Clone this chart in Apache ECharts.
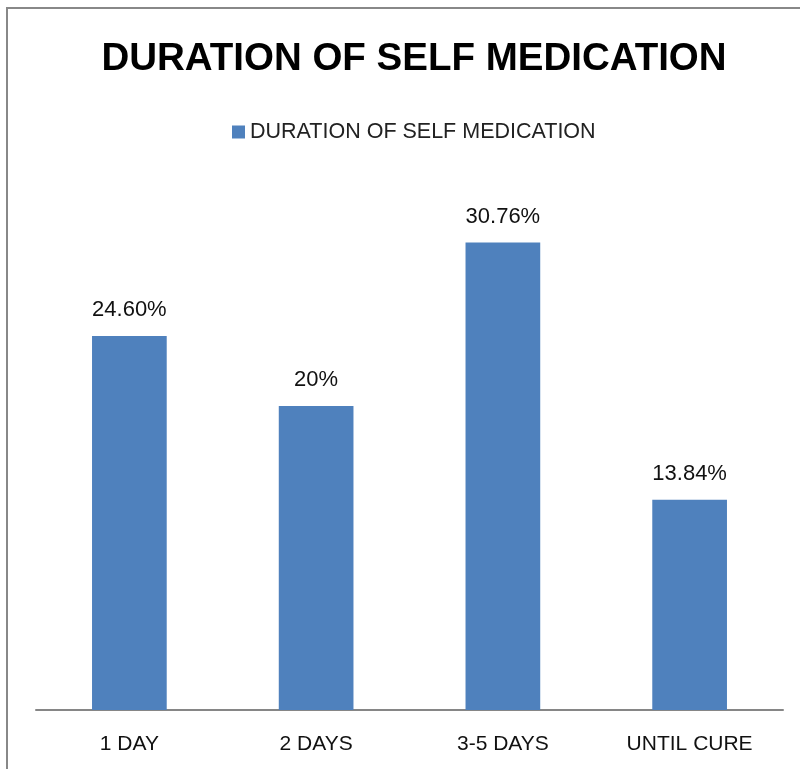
<!DOCTYPE html>
<html>
<head>
<meta charset="utf-8">
<script src="https://cdn.jsdelivr.net/npm/echarts@6/dist/echarts.min.js"></script>
<style>
  html, body { margin: 0; padding: 0; background: #fff; }
  #main { width: 800px; height: 769px; }
</style>
</head>
<body>
<div id="main"></div>
<script>
// data
var categories = ['1 DAY', '2 DAYS', '3-5 DAYS', 'UNTIL CURE'];
var values = [24.60, 20, 30.76, 13.84];
var valueLabels = ['24.60%', '20%', '30.76%', '13.84%'];
var seriesName = 'DURATION OF SELF MEDICATION';

var chart = echarts.init(document.getElementById('main'));

var option = {
  backgroundColor: '#fff',
  animation: false,
  title: {
    text: 'DURATION OF SELF MEDICATION',
    left: 409,
    textAlign: 'center',
    top: 35,
    textStyle: {
      fontFamily: 'Liberation Sans',
      fontWeight: 'bold',
      fontSize: 38.5,
      color: '#000'
    }
  },
  legend: {
    data: [seriesName],
    left: 232,
    top: 121,
    padding: 0,
    icon: 'rect',
    itemWidth: 13,
    itemHeight: 13,
    itemGap: 5,
    textStyle: {
      fontFamily: 'Liberation Sans',
      fontSize: 21.5,
      color: '#222'
    }
  },
  graphic: [{
    type: 'rect',
    shape: { x: 7, y: 8, width: 900, height: 900 },
    style: { fill: 'none', stroke: '#888', lineWidth: 2 },
    silent: true
  }],
  grid: {
    left: 36,
    right: 17,
    top: 178,
    bottom: 59
  },
  xAxis: {
    type: 'category',
    data: categories,
    axisLine: { lineStyle: { color: '#868686', width: 2 } },
    axisTick: { show: false },
    axisLabel: {
      margin: 24,
      fontFamily: 'Liberation Sans',
      fontSize: 21,
      color: '#111'
    }
  },
  yAxis: {
    type: 'value',
    min: 0,
    max: 35,
    interval: 5,
    show: false,
    splitLine: { show: false }
  },
  series: [{
    name: seriesName,
    type: 'bar',
    data: values,
    barWidth: '40%',
    itemStyle: { color: '#4f81bd' },
    label: {
      show: true,
      position: 'top',
      distance: 15,
      fontFamily: 'Liberation Sans',
      fontSize: 22,
      color: '#111',
      formatter: function (p) { return valueLabels[p.dataIndex]; }
    }
  }]
};

chart.setOption(option);
</script>
</body>
</html>
